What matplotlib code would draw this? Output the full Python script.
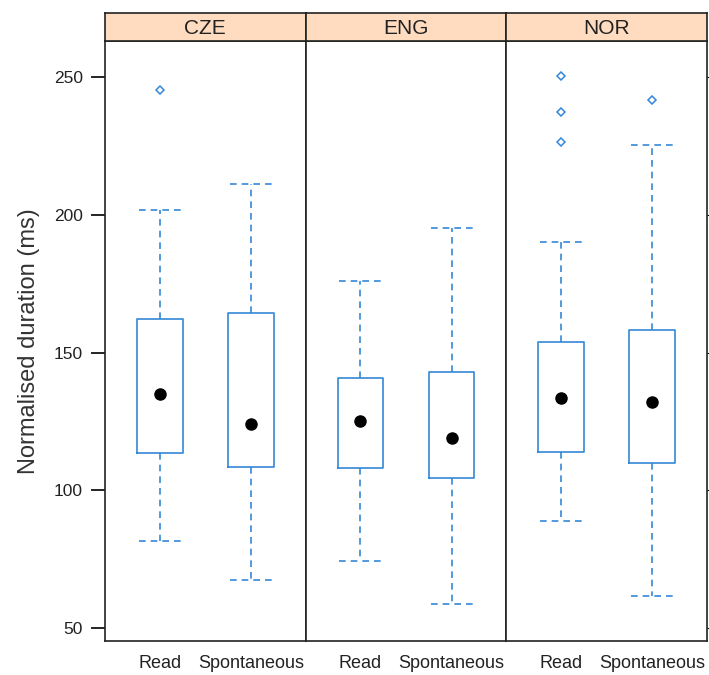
import matplotlib
matplotlib.use('Agg')
import matplotlib.pyplot as plt

# values (ms)
groups = ['CZE', 'ENG', 'NOR']
conditions = ['Read', 'Spontaneous']

whislo = [[81.6, 67.4], [74.3, 58.7], [88.8, 61.6]]
q1 = [[113.5, 108.4], [108.1, 104.4], [113.9, 109.9]]
med = [[134.9, 124.0], [125.1, 119.0], [133.5, 132.0]]
q3 = [[162.2, 164.3], [140.7, 142.9], [153.8, 158.2]]
whishi = [[201.7, 211.2], [176.0, 195.2], [190.1, 225.3]]
outliers = [[[245.3], []], [[], []], [[250.4, 237.3, 226.4], [241.7]]]

blue = '#3388d8'
plt.rcParams['font.family'] = ['Liberation Sans', 'DejaVu Sans']

fig = plt.figure(figsize=(7.09, 6.75), dpi=100)
W, H = 709.0, 675.0
left, right = 105 / W, 707 / W
bottom, top = (H - 641) / H, (H - 41) / H
strip_top = (H - 13) / H
pw = (right - left) / 3

axes = []
for i, g in enumerate(groups):
    ax = fig.add_axes([left + i * pw, bottom, pw, top - bottom])
    stats = []
    for j in range(2):
        stats.append(dict(whislo=whislo[i][j], q1=q1[i][j], med=med[i][j],
                          q3=q3[i][j], whishi=whishi[i][j], fliers=outliers[i][j]))
    ax.bxp(stats, positions=[1, 2], widths=0.5, capwidths=0.46, showcaps=True,
           boxprops=dict(color=blue, lw=1.2),
           whiskerprops=dict(color=blue, lw=1.2, ls=(0, (4, 3))),
           capprops=dict(color=blue, lw=1.2, ls=(0, (4, 3))),
           medianprops=dict(lw=0),
           flierprops=dict(marker='D', markersize=4.5, markerfacecolor='none',
                           markeredgecolor=blue, markeredgewidth=1.1))
    for j in range(2):
        ax.plot(j + 1, med[i][j], 'o', color='black', markersize=8)
    ax.set_xlim(0.4, 2.6)
    ax.set_ylim(45.3, 263.1)
    ax.set_xticks([1, 2])
    ax.set_xticklabels(conditions, fontsize=13, color='#222222')
    ax.tick_params(axis='x', length=0, pad=10)
    ax.set_yticks([50, 100, 150, 200, 250])
    if i == 0:
        ax.tick_params(axis='y', direction='out', length=10, width=1.2,
                       labelsize=12.5, labelcolor='#222222', pad=6)
        ax.set_ylabel('Normalised duration (ms)', fontsize=17, color='#333333', labelpad=10)
    elif i == 2:
        ax.yaxis.tick_right()
        ax.tick_params(axis='y', direction='out', length=4, labelright=False)
    else:
        ax.tick_params(axis='y', length=0, labelleft=False)
    for s in ax.spines.values():
        s.set_linewidth(1.2)
        s.set_color('#222222')

    sax = fig.add_axes([left + i * pw, top, pw, strip_top - top])
    sax.set_facecolor('#ffdcc0')
    sax.set_xticks([])
    sax.set_yticks([])
    for s in sax.spines.values():
        s.set_linewidth(1.2)
        s.set_color('#222222')
    sax.text(0.5, 0.45, g, ha='center', va='center', fontsize=15, color='#222222',
             transform=sax.transAxes)
    axes.append(ax)

fig.savefig('out.png', dpi=100)
